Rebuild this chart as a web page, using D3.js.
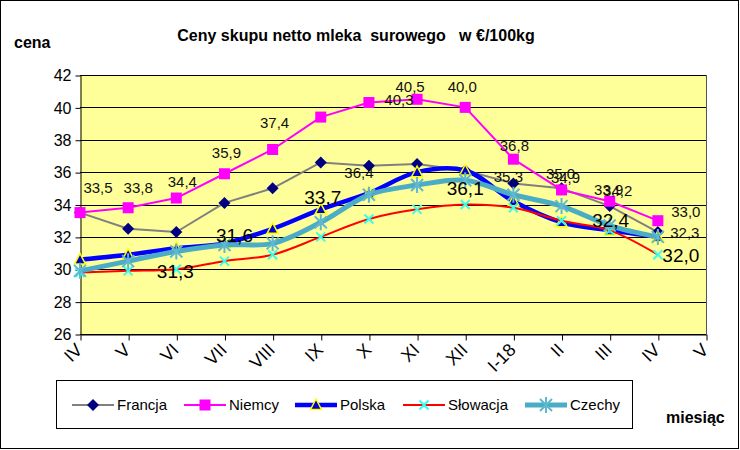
<!DOCTYPE html>
<html>
<head>
<meta charset="utf-8">
<script src="https://cdn.jsdelivr.net/npm/d3@7"></script>
<style>
  body { margin: 0; background: #fff; }
  text { font-family: "Liberation Sans", Arial, sans-serif; }
</style>
</head>
<body>
<div id="chart"></div>
<script>
// month labels (on tick marks), last one has no data
var months = ["IV", "V", "VI", "VII", "VIII", "IX", "X", "XI", "XII", "I-18", "II", "III", "IV", "V"];

var francja  = [33.5, 32.5, 32.3, 34.1, 35.0, 36.6, 36.4, 36.5, 36.1, 35.3, 35.0, 33.9, 32.3];
var niemcy   = [33.5, 33.8, 34.4, 35.9, 37.4, 39.4, 40.3, 40.5, 40.0, 36.8, 34.9, 34.2, 33.0];
var polska   = [30.6, 30.9, 31.3, 31.6, 32.5, 33.7, 34.7, 36.0, 36.1, 34.2, 32.9, 32.4, 32.0];
var slowacja = [29.8, 29.9, 30.0, 30.5, 30.9, 32.0, 33.1, 33.7, 34.0, 33.8, 33.0, 32.4, 30.9];
var czechy   = [29.9, 30.5, 31.1, 31.5, 31.6, 32.9, 34.6, 35.2, 35.5, 34.6, 33.9, 32.7, 32.0];

var yTicks = [26, 28, 30, 32, 34, 36, 38, 40, 42];

var svgWidth = 740;
var svgHeight = 450;

var plot = { left: 80, right: 706, top: 75, bottom: 334 };

var svg = d3.select("#chart")
  .append("svg")
  .attr("width", svgWidth)
  .attr("height", svgHeight);

// outer frame
svg.append("rect")
  .attr("x", 0.5).attr("y", 0.5)
  .attr("width", svgWidth - 2).attr("height", svgHeight - 2)
  .attr("fill", "#fff")
  .attr("stroke", "#000");

var xScale = d3.scalePoint()
  .domain(d3.range(months.length))
  .range([plot.left, plot.right]);

var yScale = d3.scaleLinear()
  .domain([26, 42])
  .range([plot.bottom, plot.top]);

// plot background
svg.append("rect")
  .attr("x", plot.left).attr("y", plot.top)
  .attr("width", plot.right - plot.left).attr("height", plot.bottom - plot.top)
  .attr("fill", "#FFFF99");

// grid lines
svg.append("g")
  .selectAll("line")
  .data(yTicks)
  .enter()
  .append("line")
  .attr("x1", plot.left).attr("x2", plot.right)
  .attr("y1", d => Math.round(yScale(d)) + 0.5)
  .attr("y2", d => Math.round(yScale(d)) + 0.5)
  .attr("stroke", "#000");

svg.append("line")
  .attr("x1", plot.right + 0.5).attr("x2", plot.right + 0.5)
  .attr("y1", plot.top).attr("y2", plot.bottom)
  .attr("stroke", "#555");

// y axis
var yAxis = svg.append("g")
  .attr("transform", `translate(${plot.left + 0.5}, 0.5)`)
  .call(d3.axisLeft(yScale).tickValues(yTicks).tickSize(5).tickSizeOuter(0).tickPadding(4));
yAxis.selectAll("text").attr("font-size", 16).attr("fill", "#000").attr("font-family", "Liberation Sans, Arial, sans-serif");
yAxis.selectAll("line, path").attr("stroke", "#000");

// x axis, labels slanted
var xAxis = svg.append("g")
  .attr("transform", `translate(0.5, ${plot.bottom + 0.5})`)
  .call(d3.axisBottom(xScale).tickSize(6).tickSizeOuter(0).tickFormat(i => months[i]));
xAxis.selectAll("line, path").attr("stroke", "#000");
xAxis.selectAll("text")
  .attr("font-size", 18)
  .attr("fill", "#000")
  .attr("font-family", "Liberation Sans, Arial, sans-serif")
  .attr("text-anchor", "end")
  .attr("x", 0)
  .attr("y", 0)
  .attr("dy", "0.35em")
  .attr("transform", "translate(-2, 12) rotate(-45)");

// series definitions
var series = [
  { name: "Francja", values: francja, color: "#808080", width: 2, marker: "diamond", curve: d3.curveLinear },
  { name: "Niemcy", values: niemcy, color: "#FF00FF", width: 2, marker: "square", curve: d3.curveLinear },
  { name: "Polska", values: polska, color: "#0000FF", width: 4.5, marker: "triangle", curve: d3.curveCatmullRom },
  { name: "Słowacja", values: slowacja, color: "#FF0000", width: 2, marker: "cross", curve: d3.curveCatmullRom },
  { name: "Czechy", values: czechy, color: "#4BACC6", width: 5, marker: "star", curve: d3.curveCatmullRom }
];

function drawMarker(g, type, x, y) {
  if (type === "diamond") {
    g.append("path")
      .attr("d", `M${x},${y - 6}L${x + 6},${y}L${x},${y + 6}L${x - 6},${y}Z`)
      .attr("fill", "#000080");
  } else if (type === "square") {
    g.append("rect")
      .attr("x", x - 5.5).attr("y", y - 5.5)
      .attr("width", 11).attr("height", 11)
      .attr("fill", "#FF00FF");
  } else if (type === "triangle") {
    g.append("path")
      .attr("d", `M${x},${y - 6}L${x + 5.5},${y + 4.5}L${x - 5.5},${y + 4.5}Z`)
      .attr("fill", "#0000CC")
      .attr("stroke", "#FFFF00")
      .attr("stroke-width", 1.5);
  } else if (type === "cross") {
    g.append("path")
      .attr("d", `M${x - 4.5},${y - 4.5}L${x + 4.5},${y + 4.5}M${x + 4.5},${y - 4.5}L${x - 4.5},${y + 4.5}`)
      .attr("stroke", "#33FFEE")
      .attr("stroke-width", 2);
  } else if (type === "star") {
    g.append("path")
      .attr("d", `M${x - 6},${y - 6}L${x + 6},${y + 6}M${x + 6},${y - 6}L${x - 6},${y + 6}M${x},${y - 8}L${x},${y + 8}`)
      .attr("stroke", "#5FB8D0")
      .attr("stroke-width", 2);
  }
}

series.forEach(function(s) {
  var g = svg.append("g");
  var line = d3.line()
    .x((d, i) => xScale(i))
    .y(d => yScale(d))
    .curve(s.curve);
  g.append("path")
    .datum(s.values)
    .attr("d", line)
    .attr("fill", "none")
    .attr("stroke", s.color)
    .attr("stroke-width", s.width)
    .attr("stroke-linejoin", "round");
  s.values.forEach(function(v, i) {
    drawMarker(g, s.marker, xScale(i), yScale(v));
  });
});

// data labels: [point index, dx, dy] relative to the point
var francjaLabels = [[6, -10, 7], [9, -5, -7], [10, -1, -15], [11, -1, -16], [12, 27, 1]];
var niemcyLabels = [[0, 18, -25], [1, 10, -20], [2, 6, -16], [3, 2, -21], [4, 2, -27],
  [6, 30, -3], [7, -7, -13], [8, -3, -21], [9, 1, -13], [10, 4, -12], [11, 8, -11], [12, 28, -9]];
var polskaLabels = [[2, -1, 23], [3, 10, -8], [5, 2, -12], [8, 0, 18], [11, 1, -10], [12, 23, 18]];

function fmt(v) {
  return v.toFixed(1).replace(".", ",");
}

function drawLabels(list, values, size, color) {
  svg.append("g")
    .selectAll("text")
    .data(list)
    .enter()
    .append("text")
    .attr("x", d => xScale(d[0]) + d[1])
    .attr("y", d => yScale(values[d[0]]) + d[2])
    .attr("dy", "0.35em")
    .attr("text-anchor", "middle")
    .attr("font-size", size)
    .attr("fill", color)
    .text(d => fmt(values[d[0]]));
}

drawLabels(francjaLabels, francja, 15, "#111");
drawLabels(niemcyLabels, niemcy, 15, "#111");
drawLabels(polskaLabels, polska, 19, "#000");

// titles
svg.append("text")
  .attr("x", 356).attr("y", 41)
  .attr("text-anchor", "middle")
  .attr("font-size", 16)
  .attr("font-weight", "bold")
  .style("white-space", "pre")
  .text("Ceny skupu netto mleka  surowego   w €/100kg");

svg.append("text")
  .attr("x", 14).attr("y", 48)
  .attr("font-size", 16)
  .attr("font-weight", "bold")
  .text("cena");

svg.append("text")
  .attr("x", 666).attr("y", 423)
  .attr("font-size", 16)
  .attr("font-weight", "bold")
  .text("miesiąc");

// legend
var legend = svg.append("g");
legend.append("rect")
  .attr("x", 56.5).attr("y", 380.5)
  .attr("width", 576).attr("height", 48)
  .attr("fill", "#fff")
  .attr("stroke", "#000");

var legendX = [72, 184, 295, 403, 525];
var legendY = 405;

series.forEach(function(s, i) {
  var x0 = legendX[i];
  legend.append("line")
    .attr("x1", x0).attr("x2", x0 + 42)
    .attr("y1", legendY).attr("y2", legendY)
    .attr("stroke", s.color)
    .attr("stroke-width", s.width);
  drawMarker(legend, s.marker, x0 + 21, legendY);
  legend.append("text")
    .attr("x", x0 + 45)
    .attr("y", legendY)
    .attr("dy", "0.35em")
    .attr("font-size", 15)
    .text(s.name);
});
</script>
</body>
</html>
